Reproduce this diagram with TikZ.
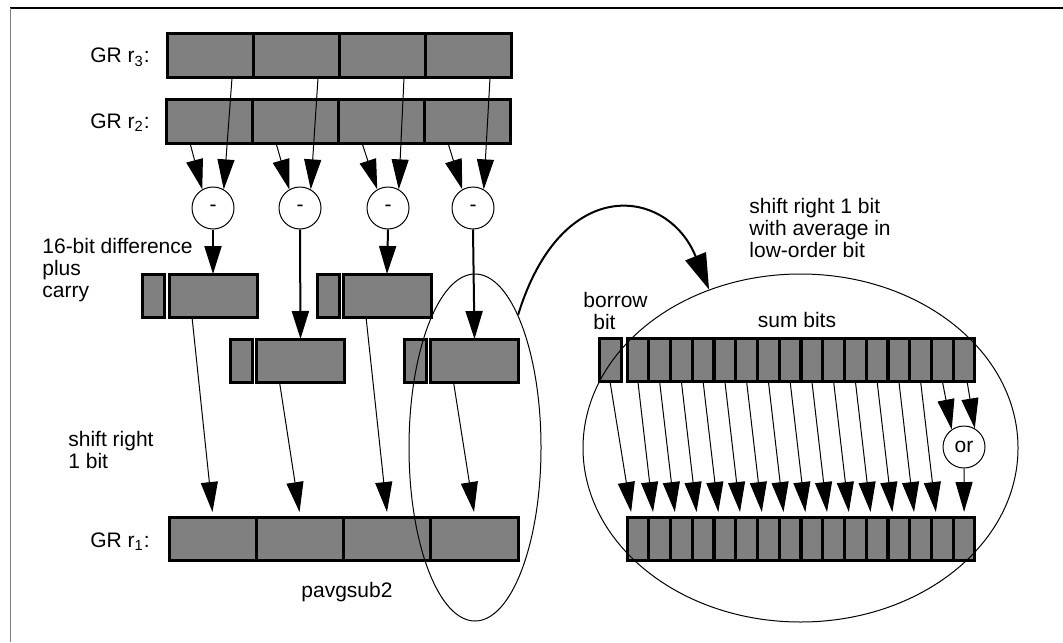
\documentclass[tikz,border=0pt]{standalone}
\usepackage{fontspec}
\setmainfont{Liberation Sans}
\usepackage{xcolor}
\usepackage{tikz}
\usetikzlibrary{arrows.meta}
\usetikzlibrary{shapes.geometric}

\definecolor{boxgray}{HTML}{808080}
\tikzset{
  box/.style={draw, line width=1.5pt, fill=boxgray, inner sep=0pt, outer sep=0pt},
  reg/.style={box, minimum width=43pt, minimum height=22pt},
  half/.style={box, minimum width=44pt, minimum height=21.5pt},
  carry/.style={box, minimum width=11pt, minimum height=21.5pt},
  bit/.style={box, minimum width=10.875pt, minimum height=21.5pt},
  op/.style={circle, draw, line width=0.5pt, fill=white, minimum size=21pt, inner sep=0pt},
  zoomring/.style={ellipse, draw, line width=0.5pt, inner sep=0pt},
  wire/.style={line width=0.5pt, -{Triangle[length=15pt, width=8.5pt]}},
  feed/.style={line width=1pt, -{Triangle[length=14pt, width=8.5pt]}},
  swing/.style={line width=1pt, -{Triangle[length=18pt, width=11pt]}},
  lbl/.style={inner sep=0pt, align=left}
}

\begin{document}
\begin{tikzpicture}[x=0.5pt, y=-0.5pt, font=\fontsize{10.5}{11}\selectfont]
            \useasboundingbox (0, 0) rectangle (1063, 642);
            \draw [line width=0.75pt] (10, 8) -- (1063, 8);
            \draw [line width=0.5pt, gray] (10, 8) -- (10, 642);
            % source registers
            \node (r3a) at (210, 56) [reg] {};
            \node (r3b) at (296, 56) [reg] {};
            \node (r3c) at (382, 56) [reg] {};
            \node (r3d) at (468, 56) [reg] {};
            \node (r2a) at (209, 121) [reg] {};
            \node (r2b) at (295, 121) [reg] {};
            \node (r2c) at (381, 121) [reg] {};
            \node (r2d) at (467, 121) [reg] {};
            \node (gr3) at (150, 63) [lbl, anchor=base east] {GR r\textsubscript{3}:};
            \node (gr2) at (150, 128) [lbl, anchor=base east] {GR r\textsubscript{2}:};
            % subtracters
            \node (d1) at (213, 208) [op] {-};
            \node (d2) at (300, 208) [op] {-};
            \node (d3) at (388, 208) [op] {-};
            \node (d4) at (473, 208) [op] {-};
            % differences with carry
            \node (c1) at (153.5, 295.5) [carry] {};
            \node (w1) at (213, 295.5) [half] {};
            \node (c2) at (241, 360.5) [carry] {};
            \node (w2) at (300.5, 360.5) [half] {};
            \node (c3) at (328, 295.5) [carry] {};
            \node (w3) at (387, 295.5) [half] {};
            \node (c4) at (415, 360.5) [carry] {};
            \node (w4) at (474.5, 360.5) [half] {};
            % target register
            \node (r1a) at (213, 538.5) [half] {};
            \node (r1b) at (300.3, 538.5) [half] {};
            \node (r1c) at (387.5, 538.5) [half] {};
            \node (r1d) at (474.8, 538.5) [half] {};
            \node (gr1) at (150, 547) [lbl, anchor=base east] {GR r\textsubscript{1}:};
            % blown up bits
            \node (bb) at (610, 360) [carry] {};
            \node (s1) at (637.9, 360) [bit] {};
            \node (s2) at (659.6, 360) [bit] {};
            \node (s3) at (681.4, 360) [bit] {};
            \node (s4) at (703.1, 360) [bit] {};
            \node (s5) at (724.9, 360) [bit] {};
            \node (s6) at (746.6, 360) [bit] {};
            \node (s7) at (768.4, 360) [bit] {};
            \node (s8) at (790.1, 360) [bit] {};
            \node (s9) at (811.9, 360) [bit] {};
            \node (s10) at (833.6, 360) [bit] {};
            \node (s11) at (855.4, 360) [bit] {};
            \node (s12) at (877.1, 360) [bit] {};
            \node (s13) at (898.9, 360) [bit] {};
            \node (s14) at (920.6, 360) [bit] {};
            \node (s15) at (942.4, 360) [bit] {};
            \node (s16) at (964.1, 360) [bit] {};
            \node (t1) at (637.9, 538.5) [bit] {};
            \node (t2) at (659.6, 538.5) [bit] {};
            \node (t3) at (681.4, 538.5) [bit] {};
            \node (t4) at (703.1, 538.5) [bit] {};
            \node (t5) at (724.9, 538.5) [bit] {};
            \node (t6) at (746.6, 538.5) [bit] {};
            \node (t7) at (768.4, 538.5) [bit] {};
            \node (t8) at (790.1, 538.5) [bit] {};
            \node (t9) at (811.9, 538.5) [bit] {};
            \node (t10) at (833.6, 538.5) [bit] {};
            \node (t11) at (855.4, 538.5) [bit] {};
            \node (t12) at (877.1, 538.5) [bit] {};
            \node (t13) at (898.9, 538.5) [bit] {};
            \node (t14) at (920.6, 538.5) [bit] {};
            \node (t15) at (942.4, 538.5) [bit] {};
            \node (t16) at (964.1, 538.5) [bit] {};
            \node (orop) at (964, 447) [op] {or};
            % rings
            \node (lens) at (475, 447.5) [zoomring, minimum width=66pt, minimum height=173.5pt] {};
            \node (ring) at (800.5, 448) [zoomring, minimum width=217.5pt, minimum height=174pt] {};
            % texts
            \node (difftxt) at (42, 238) [lbl, anchor=north west] {16-bit difference\\plus\\carry};
            \node (shifttxt) at (68, 431) [lbl, anchor=north west] {shift right\\1 bit};
            \node (opname) at (347, 597) [lbl, anchor=base] {pavgsub2};
            \node (avgtxt) at (749, 198) [lbl, anchor=north west] {shift right 1 bit\\with average in\\low-order bit};
            \node (borrowtxt) at (583, 292) [lbl, anchor=north west] {borrow\\\hspace*{5pt}bit};
            \node (sumtxt) at (797, 327) [lbl, anchor=base] {sum bits};
            % operands into subtracters
            \draw [wire] ([xshift=-9.5pt]r2a.south) -- (d1.120);
            \draw [wire] ([xshift=11pt]r3a.south) -- (d1.60);
            \draw [wire] ([xshift=-9.5pt]r2b.south) -- (d2.120);
            \draw [wire] ([xshift=11pt]r3b.south) -- (d2.60);
            \draw [wire] ([xshift=-9.5pt]r2c.south) -- (d3.120);
            \draw [wire] ([xshift=11pt]r3c.south) -- (d3.60);
            \draw [wire] ([xshift=-9.5pt]r2d.south) -- (d4.120);
            \draw [wire] ([xshift=11pt]r3d.south) -- (d4.60);
            \draw [feed] (d1.south) -- (w1.north);
            \draw [feed] (d2.south) -- (w2.north);
            \draw [feed] (d3.south) -- (w3.north);
            \draw [feed] (d4.south) -- (w4.north);
            % shift into result
            \draw [wire, shorten >=2.5pt] ([xshift=-10.5pt]w1.south) -- (r1a.north);
            \draw [wire, shorten >=2.5pt] ([xshift=-10.5pt]w2.south) -- (r1b.north);
            \draw [wire, shorten >=2.5pt] ([xshift=-10.5pt]w3.south) -- (r1c.north);
            \draw [wire, shorten >=2.5pt] ([xshift=-10.5pt]w4.south) -- (r1d.north);
            \draw [swing] (lens.72) .. controls (562, 172) and (668, 188) .. (ring.120);
            % bit by bit
            \draw [wire, shorten >=2.5pt] (bb.south) -- ([xshift=-3pt]t1.north);
            \draw [wire, shorten >=2.5pt] (s1.south) -- ([xshift=-3pt]t2.north);
            \draw [wire, shorten >=2.5pt] (s2.south) -- ([xshift=-3pt]t3.north);
            \draw [wire, shorten >=2.5pt] (s3.south) -- ([xshift=-3pt]t4.north);
            \draw [wire, shorten >=2.5pt] (s4.south) -- ([xshift=-3pt]t5.north);
            \draw [wire, shorten >=2.5pt] (s5.south) -- ([xshift=-3pt]t6.north);
            \draw [wire, shorten >=2.5pt] (s6.south) -- ([xshift=-3pt]t7.north);
            \draw [wire, shorten >=2.5pt] (s7.south) -- ([xshift=-3pt]t8.north);
            \draw [wire, shorten >=2.5pt] (s8.south) -- ([xshift=-3pt]t9.north);
            \draw [wire, shorten >=2.5pt] (s9.south) -- ([xshift=-3pt]t10.north);
            \draw [wire, shorten >=2.5pt] (s10.south) -- ([xshift=-3pt]t11.north);
            \draw [wire, shorten >=2.5pt] (s11.south) -- ([xshift=-3pt]t12.north);
            \draw [wire, shorten >=2.5pt] (s12.south) -- ([xshift=-3pt]t13.north);
            \draw [wire, shorten >=2.5pt] (s13.south) -- ([xshift=-3pt]t14.north);
            \draw [wire, shorten >=2.5pt] (s14.south) -- ([xshift=-3pt]t15.north);
            \draw [wire] (s15.south) -- (orop.125);
            \draw [wire] ([xshift=1.5pt]s16.south) -- (orop.60);
            \draw [wire, shorten >=2.5pt] (orop.south) -- (t16.north);
        \end{tikzpicture}
\end{document}
